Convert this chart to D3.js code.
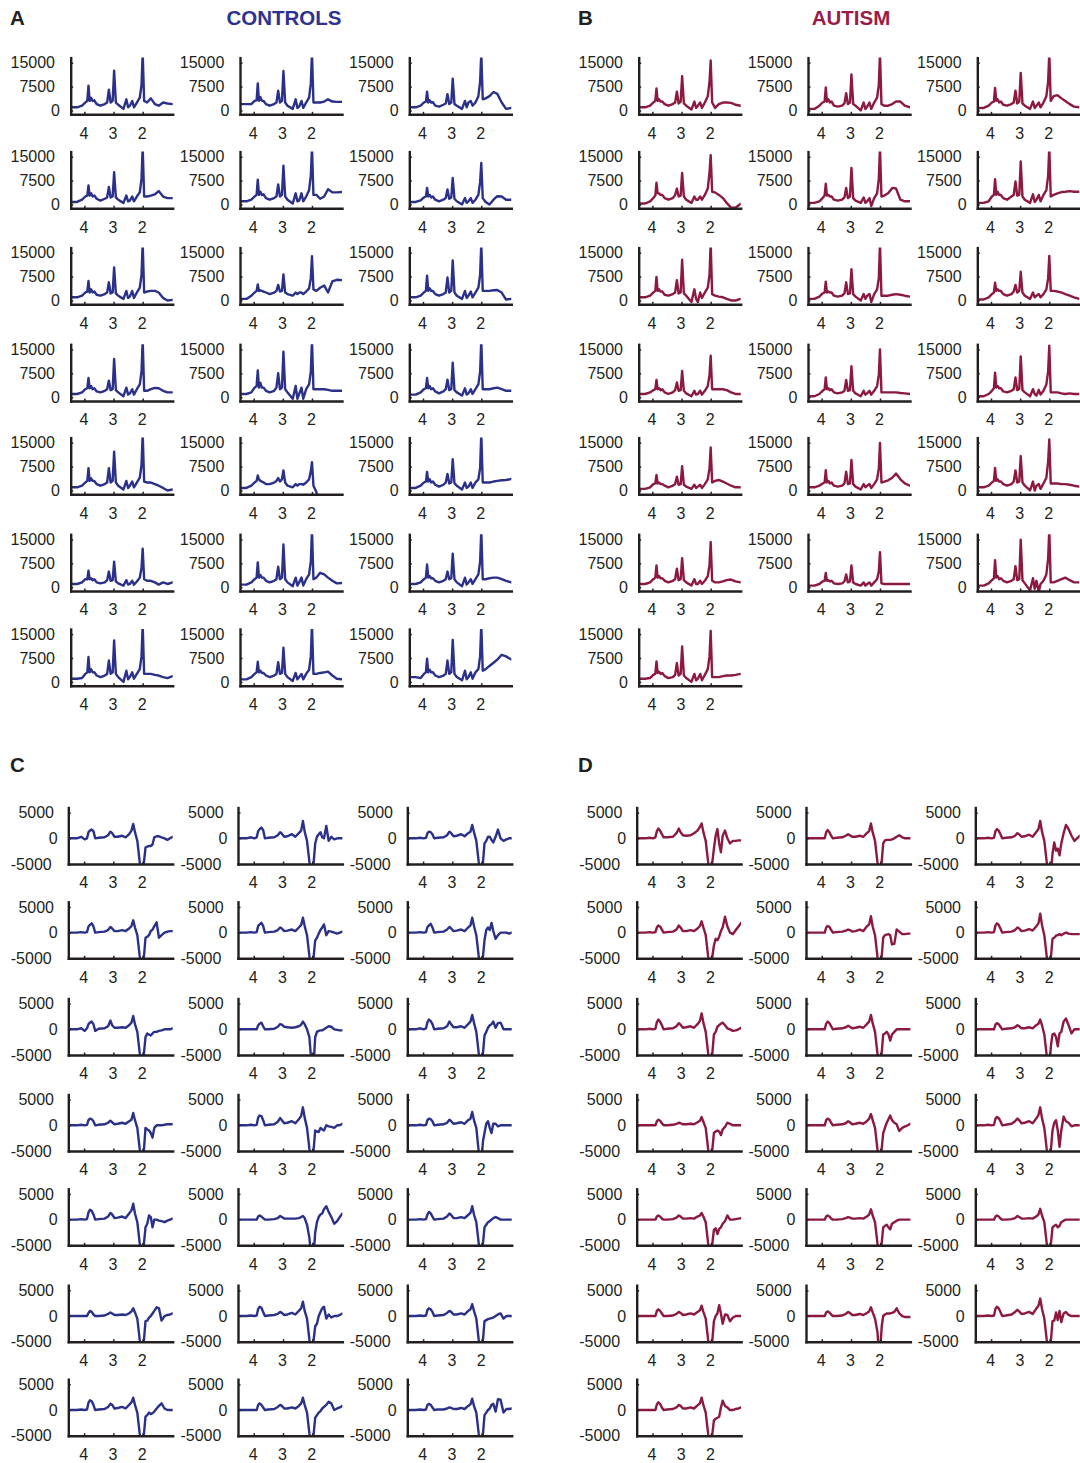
<!DOCTYPE html>
<html><head><meta charset="utf-8">
<script src="https://cdn.jsdelivr.net/npm/d3@7"></script>
<style>
html,body{margin:0;padding:0;background:#fff;}
svg{display:block;font-family:"Liberation Sans",Arial,Helvetica,sans-serif;}
</style></head><body>
<svg id="chart" width="1080" height="1463"></svg>
<script>
// ===================== DATA =====================
// chemical shift grid (ppm) for the spectra (panels A, B)
const ppmSpectra = [4.47,4.25,4.08,3.97,3.9, 3.86,3.82,3.77,3.72,3.66, 3.58,3.45,3.3,3.22,3.16,
  3.1,3.03,2.98,2.92,2.84, 2.66,2.56,2.5,2.44,2.36, 2.3,2.2,2.1,2.04,2.0, 1.95,1.85,1.72,1.58,1.45, 1.3,1.15,0.97];
// chemical shift grid (ppm) for the difference curves (panels C, D)
const ppmDiff = [4.54,4.25,4.1,3.98,3.9, 3.85,3.8,3.74,3.68,3.62, 3.5,3.3,3.18,3.1,3.04,
  2.96,2.85,2.7,2.58,2.46, 2.38,2.32,2.26,2.18,2.1, 2.05,2.0,1.95,1.9,1.84, 1.78,1.72,1.66,1.6,1.52,
  1.44,1.35,1.25,1.15,1.06, 0.97];
const ppmTicks = [4, 3, 2];
const spectraTicks = [15000, 7500, 0];
const diffTicks = [5000, 0, -5000];
const UNIT = 1000; // all series values below are in thousands

// Panel A: controls spectra (x1000)
const controlsSpectra = [
 [1.0,1.0,1.5,2.5,3.0, 7.8,3.0,4.0,3.0,3.2, 2.0,1.5,2.0,2.5,6.5, 2.5,3.0,12.5,2.5,1.8, 0.5,3.5,1.0,1.5,3.0, 1.0,2.5,4.0,8,18, 3.0,2.5,3.8,2.0,1.5, 2.5,2.2,2.0],
 [2.0,2.0,2.0,3.0,3.2, 8.5,3.0,4.2,3.0,3.0, 2.0,1.5,2.0,2.5,6.2, 2.5,3.0,12.4,2.5,1.5, 0.5,3.5,0.8,1.2,3.0, 0.8,2.5,4.0,8.5,18, 2.5,2.5,2.5,2.8,3.5, 2.8,2.7,2.7],
 [1.0,1.0,1.5,2.5,2.8, 5.9,2.5,3.2,2.5,2.6, 1.5,1.2,1.8,2.2,5.1, 2.0,2.5,10.0,2.0,1.5, 0.5,3.0,1.0,2.5,3.0, 1.5,2.5,4.5,9,18, 3.5,3.8,4.5,5.8,5.2, 2.5,0.5,0.8],
 [0.8,0.8,1.5,2.5,2.8, 6.0,2.8,3.5,2.5,2.8, 1.8,1.2,1.8,2.2,5.5, 2.2,2.5,10.1,2.2,1.5, 0.5,2.8,1.0,1.2,2.5, 1.0,2.5,3.8,8,18, 2.5,2.5,2.8,3.2,4.2, 2.5,2.0,2.0],
 [1.0,1.0,1.5,2.5,3.0, 7.8,3.0,4.0,3.0,3.2, 2.0,1.5,2.0,2.5,6.3, 2.5,3.0,12.2,2.5,1.5, 0.3,3.5,1.0,1.2,3.5, 1.0,2.5,4.5,9,18, 3.0,3.0,1.8,2.5,4.8, 3.8,3.8,3.9],
 [0.8,0.8,1.3,2.2,2.5, 5.2,2.5,3.0,2.2,2.5, 1.5,1.0,1.5,2.0,4.7, 1.8,2.2,8.3,1.8,1.0, 0.0,2.0,0.5,1.0,2.0, 0.5,1.5,3.0,7,13, 2.0,0.8,0.0,1.5,2.6, 2.5,1.5,1.5],
 [1.0,1.0,1.5,2.5,2.8, 6.1,2.5,3.5,2.5,2.8, 1.8,1.5,2.0,2.5,5.7, 2.2,2.5,10.4,2.2,1.5, 0.5,3.0,0.8,1.2,3.0, 0.8,2.5,4.0,8,18, 2.5,2.8,3.0,3.0,2.5, 0.8,0.0,0.2],
 [0.5,0.5,1.5,2.5,3.0, 5.0,3.0,3.2,3.0,2.8, 2.5,2.0,2.5,3.0,4.9, 2.8,3.0,8.2,2.5,2.0, 1.5,2.5,2.0,2.5,2.5, 2.0,2.8,3.8,7,13.9, 3.5,3.0,4.0,4.7,2.5, 6.0,6.5,6.4],
 [1.0,1.0,1.5,2.5,3.0, 7.8,3.0,3.8,3.0,3.0, 2.0,1.5,2.0,2.5,7.2, 2.5,3.0,12.6,2.5,1.5, 0.5,3.0,0.8,1.5,2.8, 1.0,2.5,4.0,8,18, 3.0,3.0,3.0,3.2,3.3, 2.5,0.3,0.5],
 [1.0,1.0,1.5,2.5,2.8, 6.0,2.8,3.5,2.5,2.8, 1.8,1.5,2.0,2.5,5.2, 2.2,2.5,12.0,2.2,1.5, 0.3,3.0,0.8,1.2,2.5, 0.8,2.5,4.0,8,18, 2.0,2.0,2.5,2.9,2.8, 2.0,1.5,1.5],
 [1.0,1.0,1.5,3.0,3.5, 8.4,3.0,4.5,3.0,3.0, 2.0,1.5,2.0,3.0,7.5, 2.5,3.0,14.3,2.5,1.5, -0.5,3.5,-0.5,1.0,3.0, -0.5,2.5,4.0,8,18, 2.5,2.5,2.5,2.5,2.3, 2.0,2.0,2.0],
 [0.8,0.8,1.5,2.5,2.8, 6.0,2.8,3.5,2.5,2.8, 1.8,1.2,1.8,2.5,5.5, 2.2,2.5,10.8,2.2,1.5, 0.5,2.8,0.8,1.2,2.5, 1.0,2.5,4.0,8,18, 2.5,2.5,2.5,2.8,3.0, 2.5,2.0,2.0],
 [1.0,1.0,1.5,2.5,3.0, 7.0,3.0,3.8,3.0,3.0, 2.0,1.5,2.0,2.5,7.0, 2.5,3.0,12.2,2.5,1.5, 0.3,3.0,0.8,1.5,2.8, 1.0,2.5,4.0,8,18, 2.8,2.5,2.5,2.0,1.5, 0.8,0.0,0.3],
 [0.8,0.8,1.5,2.5,3.0, 4.7,3.5,3.0,2.8,2.5, 2.0,2.0,2.5,3.0,3.9, 2.8,3.5,6.3,2.5,1.5, 1.0,2.0,1.5,2.0,2.0, 1.8,2.5,3.5,6,8.9, 1.5,-0.5,-4,-4,-4, -4,-4,-4],
 [0.8,0.8,1.5,2.5,2.8, 5.8,2.8,3.5,2.5,2.8, 1.8,1.2,1.8,2.5,5.2, 2.2,2.5,9.8,2.2,1.5, 0.3,2.5,0.8,1.2,2.5, 0.8,2.5,3.5,7,18, 2.5,2.5,2.5,2.8,3.0, 3.2,3.3,3.6],
 [1.0,1.0,1.5,2.5,2.5, 5.2,2.5,2.8,2.2,2.5, 1.5,1.2,1.5,2.2,4.9, 2.0,2.2,8.0,1.8,1.2, 0.5,2.2,0.8,1.0,2.0, 0.8,1.8,3.0,6,12.1, 2.5,2.0,2.0,1.5,0.8, 1.5,1.0,1.5],
 [0.8,0.8,1.5,2.5,3.0, 7.8,3.0,3.8,3.0,3.0, 2.0,1.5,2.0,2.5,6.4, 2.5,3.0,13.4,2.5,1.5, 0.3,3.0,0.5,1.5,3.0, 0.5,2.5,4.0,8,18, 2.5,3.0,4.5,4.0,3.0, 2.0,1.2,1.3],
 [1.0,1.0,1.5,2.5,3.0, 7.1,3.0,3.5,2.8,2.8, 2.0,1.5,2.0,2.5,4.9, 2.5,2.8,10.5,2.5,1.5, 0.3,3.0,0.8,1.5,2.5, 1.0,2.5,4.0,8,18, 2.5,2.5,2.8,3.0,3.0, 2.5,2.0,1.5],
 [1.0,1.0,1.2,2.5,3.0, 7.8,3.0,4.0,3.0,3.0, 2.0,1.5,2.0,2.5,6.7, 2.5,3.0,13.0,2.5,1.5, 0.0,3.5,0.8,1.5,3.0, 1.0,2.5,4.0,8,18, 2.5,2.5,2.5,2.2,2.0, 1.5,1.2,1.8],
 [0.8,0.8,1.5,2.5,3.0, 6.3,3.0,3.5,2.8,2.8, 2.0,1.5,2.0,2.5,6.2, 2.5,2.8,10.7,2.5,1.5, 0.3,2.8,0.8,1.5,2.5, 0.8,2.5,3.8,8,18, 2.5,2.5,2.8,3.0,3.2, 2.0,1.0,0.8],
 [1.5,1.5,1.2,2.5,3.0, 7.3,3.0,3.8,3.0,3.0, 2.0,1.5,2.0,2.5,6.7, 2.5,3.0,13.2,2.5,1.5, 0.5,3.5,0.8,1.5,3.0, 1.0,3.0,4.0,8,18, 3.5,4.0,5.0,6.0,7.0, 8.5,8.0,7.0]
];

// Panel B: autism spectra (x1000)
const autismSpectra = [
 [1.0,1.0,1.5,2.5,3.0, 6.9,3.0,3.5,2.8,2.8, 2.0,1.5,2.0,2.5,5.9, 2.2,2.8,10.8,2.2,1.5, 0.3,2.8,0.8,1.5,2.5, 0.8,2.5,4.5,9,15.7, 2.5,0.8,2.0,2.5,2.5, 2.4,1.8,1.5],
 [0.5,0.5,1.5,2.5,2.8, 7.2,2.8,3.5,2.5,2.8, 1.5,1.2,1.5,2.2,5.4, 2.0,2.5,11.3,2.0,1.5, 0.0,2.5,0.5,1.2,2.5, 0.5,2.5,4.0,8,18, 2.0,1.5,1.5,2.0,2.8, 2.8,1.5,1.0],
 [0.8,0.8,1.5,2.5,2.8, 7.1,3.0,3.5,2.5,2.8, 1.8,1.5,2.0,2.5,6.2, 2.2,2.8,11.8,2.2,1.5, 0.5,2.8,0.8,1.5,2.5, 1.0,2.5,4.5,9,18, 3.0,4.5,4.8,3.8,3.0, 2.0,1.2,1.0],
 [0.3,0.3,1.0,2.0,2.8, 6.8,3.5,3.5,3.0,3.0, 2.0,1.5,2.0,3.0,5.0, 2.5,2.8,9.9,2.5,1.5, 0.5,2.5,1.5,1.5,2.5, 1.5,3.0,5.0,10,15.5, 4.0,3.8,3.0,2.0,0.5, -1.0,-1.0,0.2],
 [0.5,0.5,1.0,2.0,2.8, 6.5,2.8,3.0,2.5,2.5, 1.5,1.2,1.5,2.2,5.2, 2.0,2.5,11.5,2.0,1.2, 0.5,2.2,0.5,1.0,2.0, -0.5,2.0,3.5,8,18, 2.5,2.8,3.5,5.2,5.0, 1.5,1.0,1.0],
 [0.5,0.5,1.0,2.5,3.0, 7.9,3.0,4.0,3.0,3.0, 2.0,1.5,2.5,3.0,7.2, 2.8,3.0,13.5,2.5,1.5, 0.5,3.2,0.8,1.5,3.0, 1.0,3.0,4.5,9,18, 2.5,3.0,3.5,3.9,4.0, 4.2,4.0,4.0],
 [1.0,1.0,1.5,2.5,3.0, 7.4,3.0,3.5,2.8,2.8, 1.8,1.5,2.0,2.5,6.4, 2.2,2.5,12.8,2.2,1.5, -0.5,3.5,0.5,-0.5,2.5, 0.8,2.5,4.0,8,18, 2.0,1.5,1.2,1.0,0.5, 0.0,0.0,0.5],
 [0.5,0.5,1.2,2.2,2.5, 5.9,2.5,2.8,2.5,2.5, 1.5,1.2,1.5,2.2,5.7, 2.0,2.2,9.8,2.0,1.2, 0.0,2.0,0.5,1.5,2.0, -0.5,2.0,3.5,7,18, 1.5,1.5,1.5,1.8,2.0, 1.8,1.5,1.2],
 [0.3,0.3,1.0,2.0,2.5, 5.6,3.0,3.5,3.0,3.0, 2.0,1.5,2.0,2.8,4.9, 2.5,3.0,9.0,2.5,1.5, 0.5,2.5,1.0,1.5,2.0, 1.0,2.0,3.5,7,14.0, 3.0,3.0,2.8,2.5,2.0, 1.5,1.0,0.5],
 [1.0,1.0,1.5,2.2,2.5, 5.4,2.5,2.8,2.2,2.5, 1.5,1.0,1.5,2.2,4.6, 2.0,2.2,8.2,2.0,1.2, 0.3,2.0,0.8,1.0,2.0, 0.8,2.0,3.5,7,13, 2.5,2.5,2.5,2.5,2.2, 1.5,1.0,1.0],
 [0.3,0.3,1.0,2.0,2.5, 6.2,2.5,2.8,2.2,2.5, 1.5,1.2,1.5,2.0,5.4, 2.0,2.2,9.7,2.0,1.2, 0.3,2.0,0.8,1.2,2.0, 0.8,2.0,3.5,7,15, 1.5,1.5,1.5,1.5,1.5, 1.3,1.2,1.0],
 [0.3,0.3,1.0,2.0,2.8, 7.7,3.0,3.5,2.8,2.8, 1.8,1.5,2.0,2.5,6.2, 2.2,2.5,12.8,2.2,1.5, 0.3,2.5,1.0,0.5,2.3, 0.8,2.0,4.0,8,16.2, 1.5,1.5,1.5,1.2,1.0, 1.2,1.0,1.0],
 [0.5,0.5,1.0,2.0,2.2, 4.9,2.2,2.5,2.0,2.0, 1.5,1.0,1.5,2.0,4.3, 1.8,2.0,7.6,1.8,1.2, 0.5,1.8,0.8,1.2,1.8, 0.8,2.0,3.5,7,13.5, 2.5,3.0,3.3,2.8,2.2, 1.5,1.0,1.0],
 [1.0,1.0,1.5,2.2,2.5, 6.4,2.5,3.0,2.2,2.5, 1.5,1.2,1.5,2.2,5.9, 2.0,2.2,9.6,2.0,1.2, 0.3,2.0,1.0,1.5,2.0, 0.8,2.0,3.5,7,14.9, 2.5,2.8,3.2,4.0,5.3, 3.5,2.2,1.5],
 [1.0,1.0,1.5,2.5,3.0, 7.1,3.0,3.5,2.8,2.8, 2.0,1.5,2.0,2.8,6.3, 2.5,2.8,10.8,2.5,1.5, 0.0,2.8,0.0,1.5,2.0, 0.5,2.2,4.0,9,16, 2.2,2.2,2.2,2.0,2.0, 1.8,1.5,1.2],
 [1.0,1.0,1.5,2.5,3.0, 6.8,3.0,3.5,2.8,2.8, 2.0,1.5,2.0,2.5,5.8, 2.2,2.5,9.1,2.2,1.5, 0.5,2.5,1.0,1.0,2.0, 1.0,2.0,3.5,7,14.2, 2.0,1.5,1.5,1.8,2.2, 2.4,1.8,1.5],
 [0.5,0.5,1.0,1.8,2.0, 4.5,2.0,2.2,1.8,2.0, 1.2,1.0,1.2,1.8,4.0, 1.5,1.8,6.8,1.5,1.0, 0.5,1.5,0.5,1.0,1.5, 0.5,1.5,2.5,5,11, 1.2,1.0,1.0,1.0,1.0, 1.0,1.0,1.0],
 [0.5,0.5,1.2,2.2,2.8, 8.5,3.0,3.5,2.5,2.8, 2.0,1.5,2.0,2.5,6.6, 2.2,2.5,14.9,2.2,1.2, -1.0,2.8,-0.5,2.0,-1.5, 1.0,2.0,4.0,9,18, 1.5,1.5,2.0,2.5,3.0, 2.2,1.5,1.5],
 [1.0,1.0,1.2,2.2,2.5, 6.4,2.8,3.2,2.5,2.8, 1.8,1.2,1.5,2.2,5.9, 2.0,2.5,11.1,2.0,1.2, 0.0,2.5,0.5,1.0,2.5, 0.5,2.2,4.0,8,16, 1.5,1.5,1.5,1.8,2.0, 2.0,2.2,2.5]
];

// Panel C: controls difference curves (x1000)
const controlsDiff = [
 [0,0,0.3,-0.2,0, 1.2,1.5,1.7,1.4,0, 0.1,0.2,0.6,1.3,1.0, 0.3,0.3,0.5,0.2,0.8, 1.5,2.8,1.2,-0.5,-4.5, -6.5,-6.5,-4.5,-1.8,-1.6, -1.5,-1.5,-1.2,0.2,0.4, 0.4,0.2,0,-0.3,0, 0.3],
 [0,0,0.2,0,0.2, 1.4,1.8,2.1,1.6,0, 0.1,0.2,0.6,1.2,0.9, 0.3,0.4,0.8,0.3,1.0, 1.5,3.4,1.3,-0.5,-4.5, -6.5,-6.5,-4.5,-1.0,0.3, 0.8,1.2,0.2,0.0,2.4, -0.5,0.3,-0.2,0,0, 0],
 [0,0,0.1,0,0.1, 1.0,1.3,1.2,0.8,0, 0.1,0.2,0.6,1.3,1.0, 0.4,0.5,0.8,0.4,1.0, 1.3,2.6,1.2,-0.5,-4.5, -6.5,-6.5,-4.5,-1.0,-0.5, 0.3,0.3,-0.3,-0.8,0.3, 1.7,0.0,-0.5,-0.2,0, 0],
 [0,0,0.1,0,0.1, 1.2,1.5,1.8,1.2,0, 0.1,0.2,0.5,1.1,0.8, 0.3,0.3,0.5,0.3,0.8, 1.3,2.4,1.0,-0.5,-4.5, -6.5,-6.5,-4.5,-1.0,-0.8, -0.5,0.3,0.6,1.2,2.0, -1.0,-0.5,0,0.2,0.3, 0.3],
 [0,0,0.1,0,0.1, 1.3,1.6,1.9,1.3,0, 0.1,0.2,0.5,1.0,0.8, 0.3,0.4,0.6,0.3,1.0, 1.5,2.9,1.3,-0.5,-4.5, -6.5,-6.5,-4.5,-1.5,-1.0, -0.2,0.5,1.0,1.6,-0.5, 0.3,0.2,0,-0.2,0, 0.2],
 [0,0,0.1,0,0.1, 1.1,1.4,1.7,1.0,0, 0.1,0.2,0.6,1.1,0.8, 0.3,0.4,0.6,0.3,1.0, 1.4,2.9,1.3,-0.5,-4.5, -6.5,-6.5,-4.5,-1.5,0.5, 1.0,0.5,1.9,0.3,-1.2, -0.5,0,0,0,-0.2, 0],
 [0,0,0.2,-0.3,0.2, 1.0,1.3,1.5,1.0,-0.3, 0.1,0.2,0.6,1.7,0.8, 0.3,0.3,0.4,0.3,0.8, 1.3,2.6,1.0,-0.5,-4.5, -6.5,-6.5,-4.5,-1.5,-0.8, -1.0,-1.2,-0.8,-0.5,-0.5, -0.3,-0.2,0,0,0, 0.2],
 [0,0,0,0,0, 0.8,1.1,1.3,0.6,0, 0,0.1,0.5,1.0,0.9, 0.5,0.4,0.3,0.4,0.6, 0.9,1.5,1.0,0,-1.5, -5,-6.5,-6.5,-1.5,-0.5, -0.3,-0.2,-0.2,0,0.3, 0.6,0.5,0,-0.1,-0.2, -0.2],
 [0,0,0.2,0,0.2, 1.4,1.9,1.6,1.0,0, 0.1,0.2,0.6,1.5,1.0, 0.4,0.4,0.6,0.3,1.0, 1.5,2.8,1.3,-0.5,-4.5, -6.5,-6.5,-4.5,-1.2,-0.5, 0.3,0.8,1.0,1.5,0.3, 1.2,1.3,0,0,0, 0],
 [0,0,0.1,0,0.1, 1.0,1.3,1.2,0.8,0, 0.1,0.2,0.5,0.9,0.6, 0.2,0.3,0.5,0.3,0.8, 1.1,2.4,1.0,-0.5,-4.5, -6.5,-6.5,-4.5,-0.5,-0.8, -1.0,-1.5,-2.4,-0.5,0, 0,0,0.1,0.2,0.2, 0.2],
 [0,0,0.1,0,0.1, 1.5,1.9,1.8,1.0,0, 0.1,0.2,0.7,1.4,1.0, 0.4,0.5,0.8,0.4,1.2, 1.8,3.5,1.5,-0.5,-4.5, -6.5,-6.5,-4.5,-1.0,-1.2, -1.3,-0.5,-0.8,-1.0,0, -0.2,-0.3,-0.5,0,0, 0.3],
 [0,0,0.1,0,0.1, 1.0,1.3,1.2,0.8,0, 0.1,0.2,0.5,1.1,0.8, 0.3,0.4,0.6,0.3,1.0, 1.3,2.6,1.0,-0.5,-5, -6.5,-6.5,-3,-1.5,0.3, 0.8,-0.5,-1.5,0.3,0.3, -0.2,0,0,0,0, 0],
 [0,0,0.1,0,0.1, 1.4,1.9,1.7,1.0,0, 0.1,0.2,0.6,1.3,1.0, 0.3,0.4,0.6,0.3,1.2, 1.8,3.1,1.2,-0.5,-4.5, -6.5,-6.5,-4.5,-1.5,-0.8, 0.8,0.5,-1.5,0,0, -0.2,-0.3,-0.5,-0.2,0, 0.2],
 [0,0,0,0,0, 0.6,0.8,0.6,0.3,0, 0,0.1,0.3,0.7,0.5, 0.2,0.2,0.2,0.2,0.3, 0.5,0.7,0.3,-1.0,-3.5, -6.5,-6.5,-6.5,-2.5,-0.5, 0.5,1.0,1.2,2.0,2.6, 1.5,0.5,-0.8,-0.3,0.5, 1.2],
 [0,0,0.1,0,0.1, 1.0,1.5,1.2,0.6,0, 0.1,0.2,0.6,1.2,0.9, 0.3,0.3,0.5,0.3,0.9, 1.3,2.6,1.0,-0.5,-4.5, -6.5,-6.5,-4.5,-1.5,-1.0, -0.5,-0.3,0,0.3,0.5, 0.3,0,0,0,0, 0],
 [0,0,0,0,0, 0.6,1.0,0.8,0.3,0, 0,0.1,0.4,0.7,0.5, 0.2,0.2,0.3,0.2,0.5, 0.9,1.5,0.7,-0.5,-4.5, -6.5,-6.5,-4.5,-1.0,-0.9, -0.3,0,0.5,1.0,1.7, 1.5,-0.9,0,0.2,0.3, 0.5],
 [0,0,0.1,0,0.1, 1.4,1.8,1.6,0.8,0, 0.1,0.2,0.4,0.8,0.6, 0.2,0.3,0.6,0.3,1.0, 1.5,2.8,1.0,-0.5,-4.5, -6.5,-6.5,-4.5,-2.0,-1.5, 0,0.8,1.5,1.8,-0.5, 0.3,-0.3,0,0,0.2, 0.5],
 [0,0,0.1,0,0.1, 1.2,1.5,1.3,0.8,0, 0.1,0.2,0.6,1.0,0.8, 0.3,0.3,0.5,0.3,1.0, 1.3,2.3,1.0,-0.5,-4.5, -6.5,-6.5,-4.5,-1.0,-0.8, -0.6,-0.5,-0.4,-0.3,0, 0.3,0.5,-0.5,0,0, 0],
 [0,0,0.1,0,0.1, 1.4,1.9,1.7,1.0,0, 0.1,0.2,0.6,1.2,1.0, 0.3,0.4,0.6,0.3,1.0, 1.5,2.4,1.0,-0.5,-4.5, -6.5,-6.5,-4.5,-1.3,-1.0, -0.5,-0.8,-0.6,-0.3,0.3, 0.8,1.3,0.3,0,0, 0],
 [0,0,0,0,0, 1.0,1.3,1.0,0.5,0, 0.1,0.2,0.6,1.0,0.8, 0.3,0.3,0.5,0.3,0.8, 1.3,2.4,1.0,-0.5,-4.5, -6.5,-6.5,-4.5,-1.5,-1.0, -0.5,-0.2,0.3,0.6,1.0, 1.6,1.3,0,0.3,0.5, 0.8],
 [0,0,0.1,0,0.1, 1.0,1.2,1.0,0.5,0, 0.1,0.1,0.3,0.5,0.4, 0.2,0.2,0.4,0.2,0.8, 1.1,2.2,0.8,-0.5,-4.5, -6.5,-6.5,-4.5,-1.0,-0.5, 0,0.3,1.0,1.2,-0.3, 2.1,2.0,-0.5,0.2,0.2, 0.3]
];

// Panel D: autism difference curves (x1000)
const autismDiff = [
 [0,0,0.1,0,0.2, 1.4,1.9,1.5,0.8,0.2, 0.2,0.3,1.0,1.9,1.2, 0.6,0.5,0.6,1.0,1.5, 2.2,2.9,1.2,-0.5,-4.5, -6.5,-6.5,-4.5,-2.0,0.5, 1.8,-1.0,-2.7,0.5,1.5, 0.0,-1.0,-0.5,-0.5,-0.4, -0.4],
 [0,0,0,0,0, 1.2,1.6,1.2,0.5,0, 0.1,0.2,0.5,0.8,0.6, 0.3,0.3,0.5,0.3,1.0, 1.4,2.9,1.2,-0.5,-4.5, -6.5,-6.5,-4.5,-1.0,-0.4, -0.3,-0.3,-0.3,-0.2,0, 0.3,0.6,0.2,0,0, 0],
 [0,0,0.1,0,0.1, 1.4,1.8,1.5,0.8,0, 0.1,0.2,0.5,1.0,0.8, 0.3,0.4,0.7,0.3,1.2, 1.8,3.4,1.3,-0.5,-4.5, -6.5,-6.5,-6.5,-3.0,-0.8, -2.4,-2.0,-3.3,-1.0,1.0, 2.6,1.8,0.5,-0.5,0, 0.5],
 [0,0,0.1,0,0.1, 1.0,1.4,1.2,0.6,0, 0.1,0.2,0.6,1.4,1.0, 0.3,0.3,0.5,0.3,0.8, 1.3,2.2,1.0,-0.5,-4.5, -6.5,-6.5,-4.5,-2.5,-1.2, -1.5,-0.8,0.3,1.0,3.1, 1.2,0.0,-0.3,0.5,1.2, 1.9],
 [0,0,0,0,0, 1.0,1.3,1.1,0.5,0, 0.1,0.2,0.4,0.6,0.5, 0.2,0.3,0.6,0.3,1.2, 1.6,3.2,1.2,-0.5,-4.5, -6.5,-6.5,-4.5,-1.0,-0.5, -0.4,-0.3,-0.5,-2.3,-2.2, 0.6,0.2,-0.3,-0.3,-0.2, -0.2],
 [0,0,0.1,0,0.1, 1.4,1.8,1.5,0.8,0, 0.1,0.2,0.5,1.0,0.8, 0.3,0.4,0.7,0.4,1.2, 1.8,3.7,1.5,-0.5,-4.5, -6.5,-6.5,-4.5,-1.2,-1.0, -0.6,-0.5,-0.3,-0.5,-0.2, 0,-0.2,-0.3,-0.3,-0.3, -0.3],
 [0,0,0.1,0,0.1, 1.4,1.9,1.5,0.8,0, 0.1,0.2,0.6,1.2,0.9, 0.3,0.4,0.6,0.3,1.0, 1.6,3.1,1.3,-0.5,-4.5, -6.5,-6.5,-4.5,-1.0,-0.5, 0.5,0.8,1.1,1.3,0.8, 0.2,0,-0.3,-0.2,0, 0.3],
 [0,0,0,0,0, 1.1,1.5,1.2,0.6,0, 0.1,0.2,0.4,0.7,0.5, 0.2,0.3,0.5,0.3,1.0, 1.5,2.8,1.2,-0.5,-4.5, -6.5,-6.5,-4.5,-1.0,-0.8, -0.5,-1.0,-2.2,-1.0,-0.5, 0,0,0,0,0, 0],
 [0,0,0,0,0, 0.9,1.2,1.0,0.5,0, 0.1,0.2,0.4,0.8,0.6, 0.2,0.2,0.4,0.2,0.8, 1.1,1.9,0.8,-1.0,-5, -6.5,-6.5,-3,-1.0,-0.8, -1.5,-3.3,-0.8,-0.5,1.5, 2.1,0.8,-0.8,0,0, 0],
 [0,0,0,0,0, 0.8,1.1,0.9,0.4,0, 0,0.1,0.3,0.5,0.4, 0.2,0.2,0.3,0.2,0.6, 0.9,1.6,0.7,-0.5,-4.5, -6.5,-6.5,-4.5,-1.5,-1.2, -1.0,-1.2,-1.9,-0.8,-0.3, 0.5,0.3,0,0,0, 0],
 [0,0,0,0,0, 1.0,1.3,1.1,0.5,0, 0.1,0.2,0.4,0.8,0.6, 0.2,0.3,0.5,0.3,0.8, 1.3,2.2,1.0,-0.5,-4.5, -6.5,-6.5,-4.5,-1.5,-0.5, 0.5,1.2,1.9,1.0,0.5, 0.2,-1.1,-0.5,-0.2,0, 0.3],
 [0,0,0.1,0,0.1, 1.3,1.6,1.4,0.8,0, 0.1,0.3,0.8,1.3,1.0, 0.4,0.5,0.8,0.4,1.3, 2.0,3.5,1.4,-0.5,-4.5, -6.5,-6.5,-4.5,-1.0,0.5, 1.0,-1.0,-4.2,-1.0,1.7, 0.8,0.5,-0.2,0,0, 0],
 [0,0,0,0,0, 0.6,0.8,0.6,0.2,0, 0,0.1,0.4,0.8,0.6, 0.2,0.2,0.3,0.2,0.6, 0.8,1.3,0.6,-0.5,-4.5, -6.5,-6.5,-4.5,-2.0,-1.7, -2.8,-1.8,-1.5,-0.8,-0.3, 0.8,0,0,0.1,0.2, 0.3],
 [0,0,0,0,0, 0.6,0.8,0.6,0.2,0, 0,0.1,0.3,0.5,0.4, 0.2,0.2,0.3,0.2,0.6, 1.0,2.0,0.8,-0.5,-4.5, -6.5,-6.5,-4.5,-1.5,-1.2, -1.0,-1.5,-1.9,-0.8,-0.5, -0.2,0,0,0,0, 0],
 [0,0,0,0,0, 0.6,0.8,0.6,0.2,0, 0,0.1,0.3,0.7,0.5, 0.2,0.2,0.3,0.2,0.6, 1.0,2.1,0.8,-0.5,-4.5, -6.5,-6.5,-4.5,-1.5,-1.2, -1.0,-1.5,-1.2,-0.5,-0.2, 0,0,0,0,0, 0],
 [0,0,0,0,0, 1.0,1.3,1.0,0.5,0, 0,0.1,0.4,0.8,0.6, 0.2,0.3,0.5,0.3,0.8, 1.1,2.0,0.8,-0.5,-4.5, -6.5,-6.5,-4.5,-1.0,0, 0.5,2.1,0.5,-1.5,0.3, 0.2,-1.0,-0.3,0,0, 0],
 [0,0,0,0,0, 0.7,0.9,0.7,0.3,0, 0,0.1,0.4,0.8,0.6, 0.2,0.2,0.4,0.2,0.6, 0.9,1.7,0.7,-0.5,-3, -6.5,-6.5,-2,0,0.3, 0.5,0.5,0.5,0.6,0.8, 1.5,0.5,0,-0.2,-0.2, -0.2],
 [0,0,0.1,0,0.1, 1.4,1.8,1.5,0.8,0, 0.1,0.3,0.8,1.2,0.9, 0.4,0.5,0.8,0.4,1.4, 2.0,3.4,1.4,-0.5,-4.5, -6.5,-6.5,-4.5,-1.0,-0.9, 0.7,-0.8,1.0,-1.2,0.5, 0.8,0.2,0,0,0, 0],
 [0,0,0,0,0, 1.1,1.5,1.2,0.5,0, 0.1,0.2,0.5,1.0,0.8, 0.3,0.3,0.5,0.3,0.9, 1.3,2.4,1.0,-0.5,-4.5, -6.5,-6.5,-4.5,-2.0,-1.7, -1.5,-1.3,0.5,1.8,0.8, 0.5,0,0,0.2,0.3, 0.5]
];

// ===================== LAYOUT / STYLE =====================
const INK = '#231f20';
const BLUE = '#2b3189', RED = '#8c1a3e';
const svg = d3.select('#chart');
const fmt = d => String(d); // plain hyphen-minus like the original

const specCell = {w: 102, h: 56.7, xDomain: [4.47, 0.97], yDomain: [-1200, 16600],
  yTicks: spectraTicks, labelOffsets: [15.7, 15.7, 10.7], clip: 'clipSpec'};
const diffCell = {w: 104.4, h: 56.5, xDomain: [4.54, 0.97], yDomain: [-5000, 6000],
  yTicks: diffTicks, labelOffsets: [14.3, 10.6, 16.6], clip: 'clipDiff'};

const specRows = [114.3, 208.3, 304.3, 401, 494.3, 591, 685.7];
const diffRows = [864, 958.3, 1055, 1151, 1245.3, 1341.7, 1435.7];

const panels = [
  {letter: 'A', lx: 10, ly: 25, title: 'CONTROLS', tx: 284, tColor: '#2e3192', color: BLUE,
   cell: specCell, ppm: ppmSpectra, series: controlsSpectra, cols: [70.7, 240, 409.3], rows: specRows},
  {letter: 'B', lx: 578, ly: 25, title: 'AUTISM', tx: 851, tColor: '#9b1b48', color: RED,
   cell: specCell, ppm: ppmSpectra, series: autismSpectra, cols: [638.7, 808, 977.3], rows: specRows},
  {letter: 'C', lx: 10, ly: 772, title: null, color: BLUE,
   cell: diffCell, ppm: ppmDiff, series: controlsDiff, cols: [68.3, 238, 407.3], rows: diffRows},
  {letter: 'D', lx: 578, ly: 772, title: null, color: RED,
   cell: diffCell, ppm: ppmDiff, series: autismDiff, cols: [636.7, 806, 975.3], rows: diffRows}
];

const defs = svg.append('defs');
[specCell, diffCell].forEach(c => {
  defs.append('clipPath').attr('id', c.clip).attr('clipPathUnits', 'userSpaceOnUse')
    .append('rect').attr('x', 0).attr('y', 0).attr('width', c.w).attr('height', c.h);
});

function drawCell(g, c, ppm, vals, color) {
  const x = d3.scaleLinear().domain(c.xDomain).range([0, c.w]);
  const y = d3.scaleLinear().domain(c.yDomain).range([c.h, 0]);
  const line = d3.line().x((d, i) => x(ppm[i])).y(d => y(d * UNIT));
  g.append('path').datum(vals)
    .attr('clip-path', `url(#${c.clip})`)
    .attr('fill', 'none').attr('stroke', color).attr('stroke-width', 2.4)
    .attr('stroke-linejoin', 'round').attr('stroke-linecap', 'round')
    .attr('d', line);

  const xa = g.append('g').attr('transform', `translate(0,${c.h})`)
    .call(d3.axisBottom(x).tickValues(ppmTicks).tickFormat(fmt)
      .tickSizeInner(-2.5).tickSizeOuter(0).tickPadding(13));
  const ya = g.append('g')
    .call(d3.axisLeft(y).tickValues(c.yTicks).tickFormat(fmt)
      .tickSizeInner(-2.5).tickSizeOuter(0));
  [xa, ya].forEach(a => {
    a.attr('font-family', null).attr('font-size', 16).attr('color', INK);
    a.select('.domain').attr('stroke-width', 2.4).attr('stroke-linecap', 'square');
    a.selectAll('.tick line').attr('stroke-width', 1.5);
  });
  xa.selectAll('text').attr('x', -1);
  ya.selectAll('text').attr('x', (d, i) => -c.labelOffsets[i]);
}

panels.forEach(p => {
  svg.append('text').attr('x', p.lx).attr('y', p.ly)
    .attr('font-size', 20.5).attr('font-weight', 'bold').attr('fill', INK).text(p.letter);
  if (p.title) {
    svg.append('text').attr('x', p.tx).attr('y', p.ly).attr('text-anchor', 'middle')
      .attr('font-size', 20.5).attr('font-weight', 'bold').attr('fill', p.tColor).text(p.title);
  }
  p.series.forEach((vals, k) => {
    const col = k % 3, row = Math.floor(k / 3);
    const g = svg.append('g')
      .attr('transform', `translate(${p.cols[col]},${p.rows[row] - p.cell.h})`);
    drawCell(g, p.cell, p.ppm, vals, p.color);
  });
});
</script>
</body></html>
